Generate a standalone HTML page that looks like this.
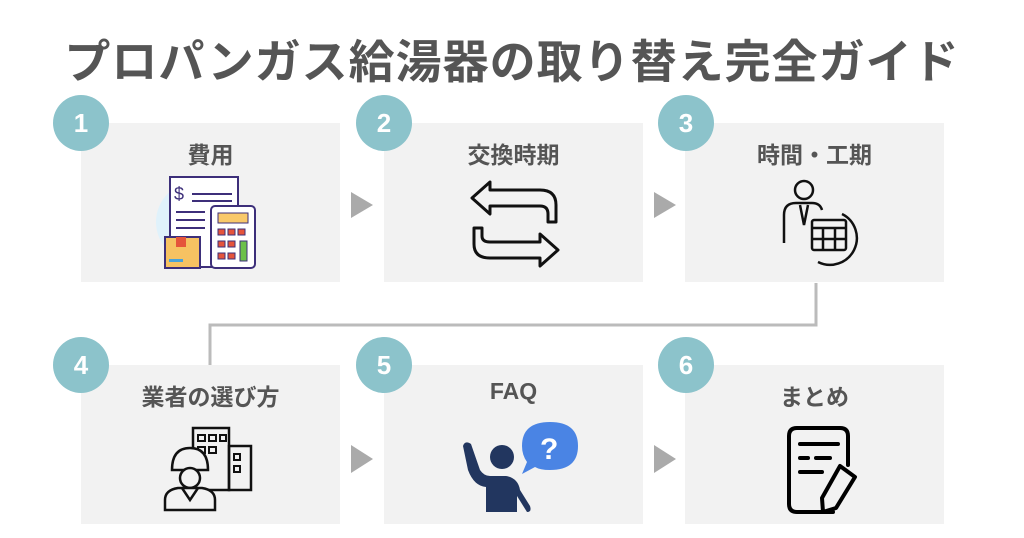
<!DOCTYPE html>
<html><head><meta charset="utf-8"><style>
body{margin:0;width:1024px;height:538px;background:#fff;position:relative;overflow:hidden;font-family:"Liberation Sans","Noto Sans CJK JP",sans-serif}
.t{position:absolute;left:0;width:1024px;top:26px;text-align:center;font-size:46px;font-weight:bold;color:#555;letter-spacing:1px;white-space:nowrap}
.b{position:absolute;width:259px;height:159px;background:#f2f2f2}
.l{position:absolute;width:259px;text-align:center;font-size:23px;font-weight:bold;color:#555}
.c{position:absolute;width:56px;height:56px;border-radius:50%;background:#8cc3cb;color:#fff;font-size:26px;font-weight:bold;text-align:center;line-height:56px;font-family:"Liberation Sans",sans-serif}
svg{position:absolute;left:0;top:0}
</style></head><body>
<div class="t">プロパンガス給湯器の取り替え完全ガイド</div>
<div class="b" style="left:81px;top:123px"></div>
<div class="b" style="left:384px;top:123px"></div>
<div class="b" style="left:685px;top:123px"></div>
<div class="b" style="left:81px;top:365px"></div>
<div class="b" style="left:384px;top:365px"></div>
<div class="b" style="left:685px;top:365px"></div>
<div class="l" style="left:81px;top:136px">費用</div>
<div class="l" style="left:384px;top:136px">交換時期</div>
<div class="l" style="left:685px;top:136px">時間・工期</div>
<div class="l" style="left:81px;top:378px">業者の選び方</div>
<div class="l" style="left:384px;top:378px">FAQ</div>
<div class="l" style="left:685px;top:378px">まとめ</div>
<svg width="1024" height="538">
<polyline points="816,283 816,325 210,325 210,365" fill="none" stroke="#bbb" stroke-width="3"/>
<g fill="#aaa">
<polygon points="351,192 373,205 351,218"/><polygon points="654,192 676,205 654,218"/>
<polygon points="351,445 373,459 351,473"/><polygon points="654,445 676,459 654,473"/>
</g>
<circle cx="196" cy="222" r="40" fill="#e0f2fb"/>
<rect x="170" y="177" width="68" height="90" fill="#fff" stroke="#3d2f7a" stroke-width="2"/>
<text x="174" y="200" font-size="18" fill="#3d2f7a" font-family="Liberation Sans">$</text>
<g stroke="#3d2f7a" stroke-width="2"><line x1="192" y1="194" x2="232" y2="194"/><line x1="192" y1="201" x2="232" y2="201"/><line x1="176" y1="212" x2="205" y2="212"/><line x1="176" y1="220" x2="205" y2="220"/><line x1="176" y1="228" x2="205" y2="228"/></g>
<rect x="211" y="206" width="44" height="62" rx="4" fill="#fff" stroke="#3d2f7a" stroke-width="2"/>
<rect x="218" y="213" width="30" height="10" fill="#f9c96a" stroke="#3d2f7a"/>
<g fill="#e5543b" stroke="#3d2f7a"><rect x="218" y="229" width="7" height="6"/><rect x="228" y="229" width="7" height="6"/><rect x="238" y="229" width="7" height="6"/><rect x="218" y="241" width="7" height="6"/><rect x="228" y="241" width="7" height="6"/><rect x="218" y="253" width="7" height="6"/><rect x="228" y="253" width="7" height="6"/></g>
<rect x="240" y="241" width="7" height="20" fill="#6cc04a" stroke="#3d2f7a"/>
<rect x="165" y="237" width="35" height="31" fill="#f6c262" stroke="#3d2f7a" stroke-width="2"/>
<rect x="176" y="237" width="10" height="10" fill="#e5543b"/>
<rect x="169" y="259" width="14" height="3" fill="#4aa3d8"/>
<g fill="none" stroke="#111" stroke-width="3" stroke-linejoin="round">
<path d="M490 182 L472 198 L490 214 L490 206 L540 206 Q548 206 548 214 L548 222 L556 222 L556 205 Q556 190 540 190 L490 190 Z"/>
<path d="M540 234 L558 250 L540 266 L540 258 L490 258 Q474 258 474 244 L474 228 L482 228 L482 236 Q482 242 490 242 L540 242 Z"/>
</g>
<g fill="none" stroke="#111" stroke-width="2.5">
<circle cx="804" cy="190" r="9"/>
<path d="M784 243 L784 215 Q784 203 796 203 L812 203 Q820 203 822 210"/>
<path d="M800 205 L804 225 L808 205"/>
<path d="M842 214 A26 26 0 1 1 818 262"/>
<rect x="812" y="220" width="34" height="30" rx="2"/>
<line x1="812" y1="228" x2="846" y2="228"/><line x1="823" y1="228" x2="823" y2="250"/><line x1="835" y1="228" x2="835" y2="250"/><line x1="812" y1="239" x2="846" y2="239"/>
</g>
<g fill="none" stroke="#111" stroke-width="2.5">
<rect x="193" y="428" width="36" height="62"/><rect x="229" y="446" width="22" height="44"/>
<g stroke-width="2"><rect x="198" y="435" width="7" height="6"/><rect x="209" y="435" width="7" height="6"/><rect x="220" y="435" width="6" height="6"/><rect x="198" y="447" width="7" height="6"/><rect x="209" y="447" width="7" height="6"/><rect x="234" y="454" width="6" height="6"/><rect x="234" y="466" width="6" height="6"/></g>
<path d="M172 470 Q172 448 190 448 Q208 448 208 470 Z" fill="#f2f2f2"/>
<circle cx="190" cy="478" r="10" fill="#f2f2f2"/>
<path d="M165 510 L165 500 Q165 490 178 488 L202 488 Q215 490 215 500 L215 510 Z" fill="#f2f2f2"/>
<path d="M182 488 L190 500 L198 488"/>
</g>
<g fill="#22365f">
<path d="M463 446 Q465 440 471 444 L480 470 Q484 476 490 476 L506 476 Q518 478 520 490 L530 506 Q532 512 527 512 L517 496 L517 512 L486 512 L486 487 Q474 486 468 470 Z"/>
<circle cx="502" cy="457" r="12"/>
</g>
<path d="M550 422 Q578 422 578 446 Q578 470 550 470 Q540 470 535 467 L522 474 L527 462 Q522 455 522 446 Q522 422 550 422 Z" fill="#4a84e4"/>
<text x="540" y="459" font-size="30" font-weight="bold" fill="#fff" font-family="Liberation Sans">?</text>
<g fill="none" stroke="#000" stroke-width="4" stroke-linecap="round" stroke-linejoin="round">
<path d="M833 512 L797 512 Q789 512 789 504 L789 436 Q789 428 797 428 L840 428 Q848 428 848 436 L848 465"/>
<line x1="800" y1="444" x2="838" y2="444"/><line x1="800" y1="458" x2="808" y2="458"/><line x1="816" y1="458" x2="830" y2="458"/><line x1="800" y1="472" x2="822" y2="472"/>
<path d="M840 466 L855 477 L836 508 L823 512 L822 498 Z"/>
</g>
</svg>
<div class="c" style="left:53px;top:95px">1</div>
<div class="c" style="left:356px;top:95px">2</div>
<div class="c" style="left:658px;top:95px">3</div>
<div class="c" style="left:53px;top:337px">4</div>
<div class="c" style="left:356px;top:337px">5</div>
<div class="c" style="left:658px;top:337px">6</div>
</body></html>
